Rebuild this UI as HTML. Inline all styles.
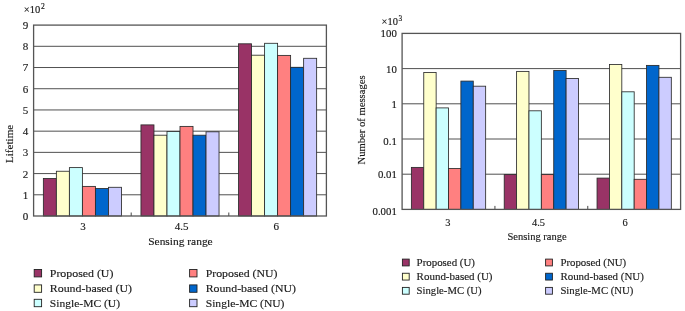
<!DOCTYPE html>
<html lang="en">
<head>
<meta charset="utf-8">
<title>Lifetime and number of messages versus sensing range</title>
<style>
html,body{margin:0;padding:0;background:#fff;}
body{width:685px;height:311px;overflow:hidden;}
svg{display:block;font-family:'Liberation Serif', serif;}
</style>
</head>
<body>
<svg width="685" height="311" viewBox="0 0 685 311">
<rect x="0" y="0" width="685" height="311" fill="#ffffff"/>
<line x1="33.60" y1="194.79" x2="326.40" y2="194.79" stroke="#3c3c3c" stroke-width="0.9"/>
<line x1="33.60" y1="173.58" x2="326.40" y2="173.58" stroke="#3c3c3c" stroke-width="0.9"/>
<line x1="33.60" y1="152.37" x2="326.40" y2="152.37" stroke="#3c3c3c" stroke-width="0.9"/>
<line x1="33.60" y1="131.16" x2="326.40" y2="131.16" stroke="#3c3c3c" stroke-width="0.9"/>
<line x1="33.60" y1="109.94" x2="326.40" y2="109.94" stroke="#3c3c3c" stroke-width="0.9"/>
<line x1="33.60" y1="88.73" x2="326.40" y2="88.73" stroke="#3c3c3c" stroke-width="0.9"/>
<line x1="33.60" y1="67.52" x2="326.40" y2="67.52" stroke="#3c3c3c" stroke-width="0.9"/>
<line x1="33.60" y1="46.31" x2="326.40" y2="46.31" stroke="#3c3c3c" stroke-width="0.9"/>
<line x1="131.20" y1="216.00" x2="131.20" y2="212.50" stroke="#333" stroke-width="0.9"/>
<line x1="228.80" y1="216.00" x2="228.80" y2="212.50" stroke="#333" stroke-width="0.9"/>
<rect x="43.36" y="178.50" width="13.01" height="37.50" fill="#993366" stroke="#2b2b2b" stroke-width="0.85"/>
<rect x="56.37" y="171.25" width="13.01" height="44.75" fill="#FFFFCC" stroke="#2b2b2b" stroke-width="0.85"/>
<rect x="69.39" y="167.60" width="13.01" height="48.40" fill="#CCFFFF" stroke="#2b2b2b" stroke-width="0.85"/>
<rect x="82.40" y="186.40" width="13.01" height="29.60" fill="#FF8080" stroke="#2b2b2b" stroke-width="0.85"/>
<rect x="95.41" y="188.50" width="13.01" height="27.50" fill="#0066CC" stroke="#2b2b2b" stroke-width="0.85"/>
<rect x="108.43" y="187.30" width="13.01" height="28.70" fill="#CCCCFF" stroke="#2b2b2b" stroke-width="0.85"/>
<rect x="140.96" y="124.90" width="13.01" height="91.10" fill="#993366" stroke="#2b2b2b" stroke-width="0.85"/>
<rect x="153.97" y="135.20" width="13.01" height="80.80" fill="#FFFFCC" stroke="#2b2b2b" stroke-width="0.85"/>
<rect x="166.99" y="131.50" width="13.01" height="84.50" fill="#CCFFFF" stroke="#2b2b2b" stroke-width="0.85"/>
<rect x="180.00" y="126.40" width="13.01" height="89.60" fill="#FF8080" stroke="#2b2b2b" stroke-width="0.85"/>
<rect x="193.01" y="135.20" width="13.01" height="80.80" fill="#0066CC" stroke="#2b2b2b" stroke-width="0.85"/>
<rect x="206.03" y="131.80" width="13.01" height="84.20" fill="#CCCCFF" stroke="#2b2b2b" stroke-width="0.85"/>
<rect x="238.56" y="43.80" width="13.01" height="172.20" fill="#993366" stroke="#2b2b2b" stroke-width="0.85"/>
<rect x="251.57" y="55.20" width="13.01" height="160.80" fill="#FFFFCC" stroke="#2b2b2b" stroke-width="0.85"/>
<rect x="264.59" y="43.30" width="13.01" height="172.70" fill="#CCFFFF" stroke="#2b2b2b" stroke-width="0.85"/>
<rect x="277.60" y="55.40" width="13.01" height="160.60" fill="#FF8080" stroke="#2b2b2b" stroke-width="0.85"/>
<rect x="290.61" y="67.30" width="13.01" height="148.70" fill="#0066CC" stroke="#2b2b2b" stroke-width="0.85"/>
<rect x="303.63" y="58.30" width="13.01" height="157.70" fill="#CCCCFF" stroke="#2b2b2b" stroke-width="0.85"/>
<rect x="33.60" y="25.10" width="292.80" height="190.90" fill="none" stroke="#555" stroke-width="1.3"/>
<text x="28.3" y="219.9" font-size="11.02" text-anchor="end" fill="#1a1a1a" stroke="#1a1a1a" stroke-width="0.15">0</text>
<text x="28.3" y="198.7" font-size="11.02" text-anchor="end" fill="#1a1a1a" stroke="#1a1a1a" stroke-width="0.15">1</text>
<text x="28.3" y="177.5" font-size="11.02" text-anchor="end" fill="#1a1a1a" stroke="#1a1a1a" stroke-width="0.15">2</text>
<text x="28.3" y="156.3" font-size="11.02" text-anchor="end" fill="#1a1a1a" stroke="#1a1a1a" stroke-width="0.15">3</text>
<text x="28.3" y="135.1" font-size="11.02" text-anchor="end" fill="#1a1a1a" stroke="#1a1a1a" stroke-width="0.15">4</text>
<text x="28.3" y="113.8" font-size="11.02" text-anchor="end" fill="#1a1a1a" stroke="#1a1a1a" stroke-width="0.15">5</text>
<text x="28.3" y="92.6" font-size="11.02" text-anchor="end" fill="#1a1a1a" stroke="#1a1a1a" stroke-width="0.15">6</text>
<text x="28.3" y="71.4" font-size="11.02" text-anchor="end" fill="#1a1a1a" stroke="#1a1a1a" stroke-width="0.15">7</text>
<text x="28.3" y="50.2" font-size="11.02" text-anchor="end" fill="#1a1a1a" stroke="#1a1a1a" stroke-width="0.15">8</text>
<text x="28.3" y="29.0" font-size="11.02" text-anchor="end" fill="#1a1a1a" stroke="#1a1a1a" stroke-width="0.15">9</text>
<text x="23.8" y="12.9" font-size="11.02" textLength="16.5" lengthAdjust="spacingAndGlyphs" fill="#1a1a1a" stroke="#1a1a1a" stroke-width="0.15">×10</text>
<text x="41.0" y="9.3" font-size="7.65" fill="#1a1a1a" stroke="#1a1a1a" stroke-width="0.15">2</text>
<text x="83.0" y="229.8" font-size="11.02" text-anchor="middle" fill="#1a1a1a" stroke="#1a1a1a" stroke-width="0.15">3</text>
<text x="181.6" y="229.8" font-size="11.02" text-anchor="middle" fill="#1a1a1a" stroke="#1a1a1a" stroke-width="0.15">4.5</text>
<text x="276.2" y="229.8" font-size="11.02" text-anchor="middle" fill="#1a1a1a" stroke="#1a1a1a" stroke-width="0.15">6</text>
<text x="148.2" y="245.0" font-size="11.22" textLength="64.5" lengthAdjust="spacingAndGlyphs" fill="#1a1a1a" stroke="#1a1a1a" stroke-width="0.15">Sensing range</text>
<text x="13.4" y="163.0" font-size="11.22" textLength="38.2" lengthAdjust="spacingAndGlyphs" transform="rotate(-90 13.4 163.0)" fill="#1a1a1a" stroke="#1a1a1a" stroke-width="0.15">Lifetime</text>
<rect x="34.20" y="269.50" width="7.40" height="7.40" fill="#993366" stroke="#222" stroke-width="0.9"/>
<text x="49.8" y="277.0" font-size="11.22" textLength="63.6" lengthAdjust="spacingAndGlyphs" fill="#1a1a1a" stroke="#1a1a1a" stroke-width="0.15">Proposed (U)</text>
<rect x="189.60" y="269.50" width="7.40" height="7.40" fill="#FF8080" stroke="#222" stroke-width="0.9"/>
<text x="205.7" y="277.0" font-size="11.22" textLength="71.8" lengthAdjust="spacingAndGlyphs" fill="#1a1a1a" stroke="#1a1a1a" stroke-width="0.15">Proposed (NU)</text>
<rect x="34.20" y="284.90" width="7.40" height="7.40" fill="#FFFFCC" stroke="#222" stroke-width="0.9"/>
<text x="49.8" y="292.4" font-size="11.22" textLength="82.2" lengthAdjust="spacingAndGlyphs" fill="#1a1a1a" stroke="#1a1a1a" stroke-width="0.15">Round-based (U)</text>
<rect x="189.60" y="284.90" width="7.40" height="7.40" fill="#0066CC" stroke="#222" stroke-width="0.9"/>
<text x="205.7" y="292.4" font-size="11.22" textLength="90.2" lengthAdjust="spacingAndGlyphs" fill="#1a1a1a" stroke="#1a1a1a" stroke-width="0.15">Round-based (NU)</text>
<rect x="34.20" y="299.30" width="7.40" height="7.40" fill="#CCFFFF" stroke="#222" stroke-width="0.9"/>
<text x="49.8" y="306.8" font-size="11.22" textLength="70.2" lengthAdjust="spacingAndGlyphs" fill="#1a1a1a" stroke="#1a1a1a" stroke-width="0.15">Single-MC (U)</text>
<rect x="189.60" y="299.30" width="7.40" height="7.40" fill="#CCCCFF" stroke="#222" stroke-width="0.9"/>
<text x="205.7" y="306.8" font-size="11.22" textLength="78.8" lengthAdjust="spacingAndGlyphs" fill="#1a1a1a" stroke="#1a1a1a" stroke-width="0.15">Single-MC (NU)</text>
<line x1="402.10" y1="174.20" x2="680.60" y2="174.20" stroke="#3c3c3c" stroke-width="0.9"/>
<line x1="402.10" y1="139.00" x2="680.60" y2="139.00" stroke="#3c3c3c" stroke-width="0.9"/>
<line x1="402.10" y1="103.80" x2="680.60" y2="103.80" stroke="#3c3c3c" stroke-width="0.9"/>
<line x1="402.10" y1="68.60" x2="680.60" y2="68.60" stroke="#3c3c3c" stroke-width="0.9"/>
<line x1="494.93" y1="209.40" x2="494.93" y2="205.90" stroke="#333" stroke-width="0.9"/>
<line x1="587.77" y1="209.40" x2="587.77" y2="205.90" stroke="#333" stroke-width="0.9"/>
<rect x="411.38" y="167.40" width="12.38" height="42.00" fill="#993366" stroke="#2b2b2b" stroke-width="0.85"/>
<rect x="423.76" y="72.50" width="12.38" height="136.90" fill="#FFFFCC" stroke="#2b2b2b" stroke-width="0.85"/>
<rect x="436.14" y="107.90" width="12.38" height="101.50" fill="#CCFFFF" stroke="#2b2b2b" stroke-width="0.85"/>
<rect x="448.52" y="168.50" width="12.38" height="40.90" fill="#FF8080" stroke="#2b2b2b" stroke-width="0.85"/>
<rect x="460.89" y="81.10" width="12.38" height="128.30" fill="#0066CC" stroke="#2b2b2b" stroke-width="0.85"/>
<rect x="473.27" y="86.20" width="12.38" height="123.20" fill="#CCCCFF" stroke="#2b2b2b" stroke-width="0.85"/>
<rect x="504.22" y="174.60" width="12.38" height="34.80" fill="#993366" stroke="#2b2b2b" stroke-width="0.85"/>
<rect x="516.59" y="71.40" width="12.38" height="138.00" fill="#FFFFCC" stroke="#2b2b2b" stroke-width="0.85"/>
<rect x="528.97" y="110.80" width="12.38" height="98.60" fill="#CCFFFF" stroke="#2b2b2b" stroke-width="0.85"/>
<rect x="541.35" y="174.60" width="12.38" height="34.80" fill="#FF8080" stroke="#2b2b2b" stroke-width="0.85"/>
<rect x="553.73" y="70.50" width="12.38" height="138.90" fill="#0066CC" stroke="#2b2b2b" stroke-width="0.85"/>
<rect x="566.11" y="78.50" width="12.38" height="130.90" fill="#CCCCFF" stroke="#2b2b2b" stroke-width="0.85"/>
<rect x="597.05" y="178.10" width="12.38" height="31.30" fill="#993366" stroke="#2b2b2b" stroke-width="0.85"/>
<rect x="609.43" y="64.50" width="12.38" height="144.90" fill="#FFFFCC" stroke="#2b2b2b" stroke-width="0.85"/>
<rect x="621.81" y="91.80" width="12.38" height="117.60" fill="#CCFFFF" stroke="#2b2b2b" stroke-width="0.85"/>
<rect x="634.18" y="179.30" width="12.38" height="30.10" fill="#FF8080" stroke="#2b2b2b" stroke-width="0.85"/>
<rect x="646.56" y="65.40" width="12.38" height="144.00" fill="#0066CC" stroke="#2b2b2b" stroke-width="0.85"/>
<rect x="658.94" y="77.30" width="12.38" height="132.10" fill="#CCCCFF" stroke="#2b2b2b" stroke-width="0.85"/>
<rect x="402.10" y="33.40" width="278.50" height="176.00" fill="none" stroke="#555" stroke-width="1.3"/>
<text x="396.8" y="215.0" font-size="10.81" text-anchor="end" fill="#1a1a1a" stroke="#1a1a1a" stroke-width="0.15">0.001</text>
<text x="396.8" y="177.5" font-size="10.81" text-anchor="end" fill="#1a1a1a" stroke="#1a1a1a" stroke-width="0.15">0.01</text>
<text x="396.8" y="144.6" font-size="10.81" text-anchor="end" fill="#1a1a1a" stroke="#1a1a1a" stroke-width="0.15">0.1</text>
<text x="396.8" y="107.5" font-size="10.81" text-anchor="end" fill="#1a1a1a" stroke="#1a1a1a" stroke-width="0.15">1</text>
<text x="396.8" y="72.9" font-size="10.81" text-anchor="end" fill="#1a1a1a" stroke="#1a1a1a" stroke-width="0.15">10</text>
<text x="396.8" y="37.1" font-size="10.81" text-anchor="end" fill="#1a1a1a" stroke="#1a1a1a" stroke-width="0.15">100</text>
<text x="381.6" y="25.2" font-size="10.81" textLength="16.3" lengthAdjust="spacingAndGlyphs" fill="#1a1a1a" stroke="#1a1a1a" stroke-width="0.15">×10</text>
<text x="398.4" y="20.8" font-size="7.34" fill="#1a1a1a" stroke="#1a1a1a" stroke-width="0.15">3</text>
<text x="447.8" y="225.8" font-size="10.40" text-anchor="middle" fill="#1a1a1a" stroke="#1a1a1a" stroke-width="0.15">3</text>
<text x="538.5" y="225.8" font-size="10.40" text-anchor="middle" fill="#1a1a1a" stroke="#1a1a1a" stroke-width="0.15">4.5</text>
<text x="625.1" y="225.8" font-size="10.40" text-anchor="middle" fill="#1a1a1a" stroke="#1a1a1a" stroke-width="0.15">6</text>
<text x="507.4" y="239.9" font-size="10.40" textLength="59.3" lengthAdjust="spacingAndGlyphs" fill="#1a1a1a" stroke="#1a1a1a" stroke-width="0.15">Sensing range</text>
<text x="364.9" y="164.4" font-size="10.40" textLength="89.0" lengthAdjust="spacingAndGlyphs" transform="rotate(-90 364.9 164.4)" fill="#1a1a1a" stroke="#1a1a1a" stroke-width="0.15">Number of messages</text>
<rect x="402.40" y="259.10" width="6.80" height="6.80" fill="#993366" stroke="#222" stroke-width="0.9"/>
<text x="416.6" y="265.7" font-size="10.40" textLength="58.4" lengthAdjust="spacingAndGlyphs" fill="#1a1a1a" stroke="#1a1a1a" stroke-width="0.15">Proposed (U)</text>
<rect x="545.60" y="259.10" width="6.80" height="6.80" fill="#FF8080" stroke="#222" stroke-width="0.9"/>
<text x="560.4" y="265.7" font-size="10.40" textLength="65.8" lengthAdjust="spacingAndGlyphs" fill="#1a1a1a" stroke="#1a1a1a" stroke-width="0.15">Proposed (NU)</text>
<rect x="402.40" y="273.25" width="6.80" height="6.80" fill="#FFFFCC" stroke="#222" stroke-width="0.9"/>
<text x="416.6" y="279.9" font-size="10.40" textLength="75.9" lengthAdjust="spacingAndGlyphs" fill="#1a1a1a" stroke="#1a1a1a" stroke-width="0.15">Round-based (U)</text>
<rect x="545.60" y="273.25" width="6.80" height="6.80" fill="#0066CC" stroke="#222" stroke-width="0.9"/>
<text x="560.4" y="279.9" font-size="10.40" textLength="83.5" lengthAdjust="spacingAndGlyphs" fill="#1a1a1a" stroke="#1a1a1a" stroke-width="0.15">Round-based (NU)</text>
<rect x="402.40" y="287.40" width="6.80" height="6.80" fill="#CCFFFF" stroke="#222" stroke-width="0.9"/>
<text x="416.6" y="294.0" font-size="10.40" textLength="64.9" lengthAdjust="spacingAndGlyphs" fill="#1a1a1a" stroke="#1a1a1a" stroke-width="0.15">Single-MC (U)</text>
<rect x="545.60" y="287.40" width="6.80" height="6.80" fill="#CCCCFF" stroke="#222" stroke-width="0.9"/>
<text x="560.4" y="294.0" font-size="10.40" textLength="73.0" lengthAdjust="spacingAndGlyphs" fill="#1a1a1a" stroke="#1a1a1a" stroke-width="0.15">Single-MC (NU)</text>
</svg>
</body>
</html>
